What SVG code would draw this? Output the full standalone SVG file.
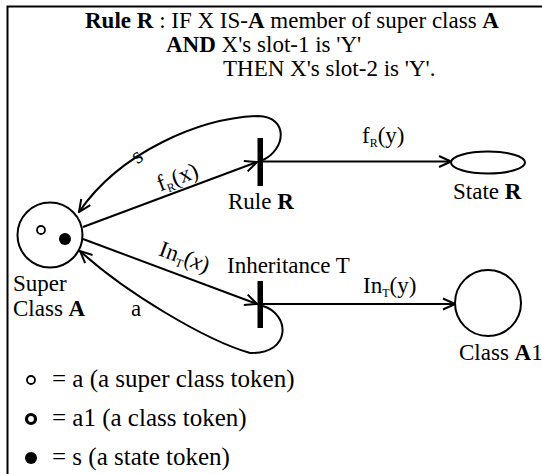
<svg xmlns="http://www.w3.org/2000/svg" width="542" height="474" viewBox="0 0 542 474">
<defs>
<style>
text{font-family:"Liberation Serif","Times New Roman",serif;font-size:23px;fill:#000}
.b{font-weight:bold}
.sub{font-size:12px}
.lg{font-size:25px}
.ln{fill:none;stroke:#000;stroke-width:2}
.nd{fill:#fff;stroke:#000;stroke-width:2}
.bar{fill:#000}
</style>
<marker id="arr" viewBox="0 0 14 14" refX="13" refY="7" markerWidth="14" markerHeight="14" markerUnits="userSpaceOnUse" orient="auto">
<path d="M1,1.5 L13,7 L1,12.5" fill="none" stroke="#000" stroke-width="2"/>
</marker>
</defs>
<rect width="542" height="474" fill="#fff"/>
<path d="M7.5,474 V6.5 H542" fill="none" stroke="#000" stroke-width="2"/>
<g id="title">
<text x="85" y="28"><tspan class="b">Rule R</tspan> : IF X IS-<tspan class="b">A</tspan> member of super class <tspan class="b">A</tspan></text>
<text x="166" y="52"><tspan class="b">AND</tspan> X's slot-1 is 'Y'</text>
<text x="223" y="76">THEN X's slot-2 is 'Y'.</text>
</g>
<g id="connectors">
<path class="ln" d="M263,160 C285,150 290,117 258,116 C200,118 120,152 79,212" marker-end="url(#arr)"/>
<path class="ln" d="M83,227 L257,162" marker-end="url(#arr)"/>
<path class="ln" d="M263,161.5 L451,161.5" marker-end="url(#arr)"/>
<path class="ln" d="M83,239 L257,304" marker-end="url(#arr)"/>
<path class="ln" d="M263,306 C290,314 292,354 250,353 C205,340 125,292 80,251" marker-end="url(#arr)"/>
<path class="ln" d="M263,304 L455,304" marker-end="url(#arr)"/>
<text x="0" y="0" transform="translate(141,162) rotate(-35)" text-anchor="middle">s</text>
<text x="0" y="0" transform="translate(180,184) rotate(-21)" text-anchor="middle">f<tspan class="sub" dy="4">R</tspan><tspan dy="-4">(x)</tspan></text>
<text x="0" y="0" transform="translate(182,264) rotate(20)" text-anchor="middle">In<tspan class="sub" dy="4">T</tspan><tspan dy="-4">(</tspan><tspan font-style="italic">x</tspan>)</text>
<text x="131" y="316">a</text>
<text x="362" y="143">f<tspan class="sub" dy="4">R</tspan><tspan dy="-4">(y)</tspan></text>
<text x="363" y="293">In<tspan class="sub" dy="4">T</tspan><tspan dy="-4">(y)</tspan></text>
</g>
<g id="superClassA">
<circle class="nd" cx="50" cy="235" r="32.5"/>
<circle cx="41" cy="230" r="4" fill="#fff" stroke="#000" stroke-width="1.8"/>
<circle cx="65" cy="239" r="6" fill="#000"/>
<text x="13" y="291">Super</text>
<text x="13" y="316">Class <tspan class="b">A</tspan></text>
</g>
<g id="ruleR">
<rect class="bar" x="257.5" y="138" width="5.5" height="48"/>
<text x="228" y="209">Rule <tspan class="b">R</tspan></text>
</g>
<g id="stateR">
<ellipse class="nd" cx="488" cy="162.5" rx="37" ry="11"/>
<text x="453" y="199">State <tspan class="b">R</tspan></text>
</g>
<g id="inheritanceT">
<rect class="bar" x="257.5" y="281" width="5.5" height="47"/>
<text x="227" y="273">Inheritance T</text>
</g>
<g id="classA1">
<circle class="nd" cx="488" cy="303" r="33"/>
<text x="459" y="360">Class <tspan class="b">A</tspan>1</text>
</g>
<g id="legend">
<circle cx="31" cy="380" r="4" fill="#fff" stroke="#000" stroke-width="1.8"/>
<text class="lg" x="52" y="387">= a (a super class token)</text>
<circle cx="31" cy="419" r="4.5" fill="#fff" stroke="#000" stroke-width="3.2"/>
<text class="lg" x="52" y="426">= a1 (a class token)</text>
<circle cx="31" cy="458" r="6" fill="#000"/>
<text class="lg" x="52" y="465">= s (a state token)</text>
</g>
</svg>
